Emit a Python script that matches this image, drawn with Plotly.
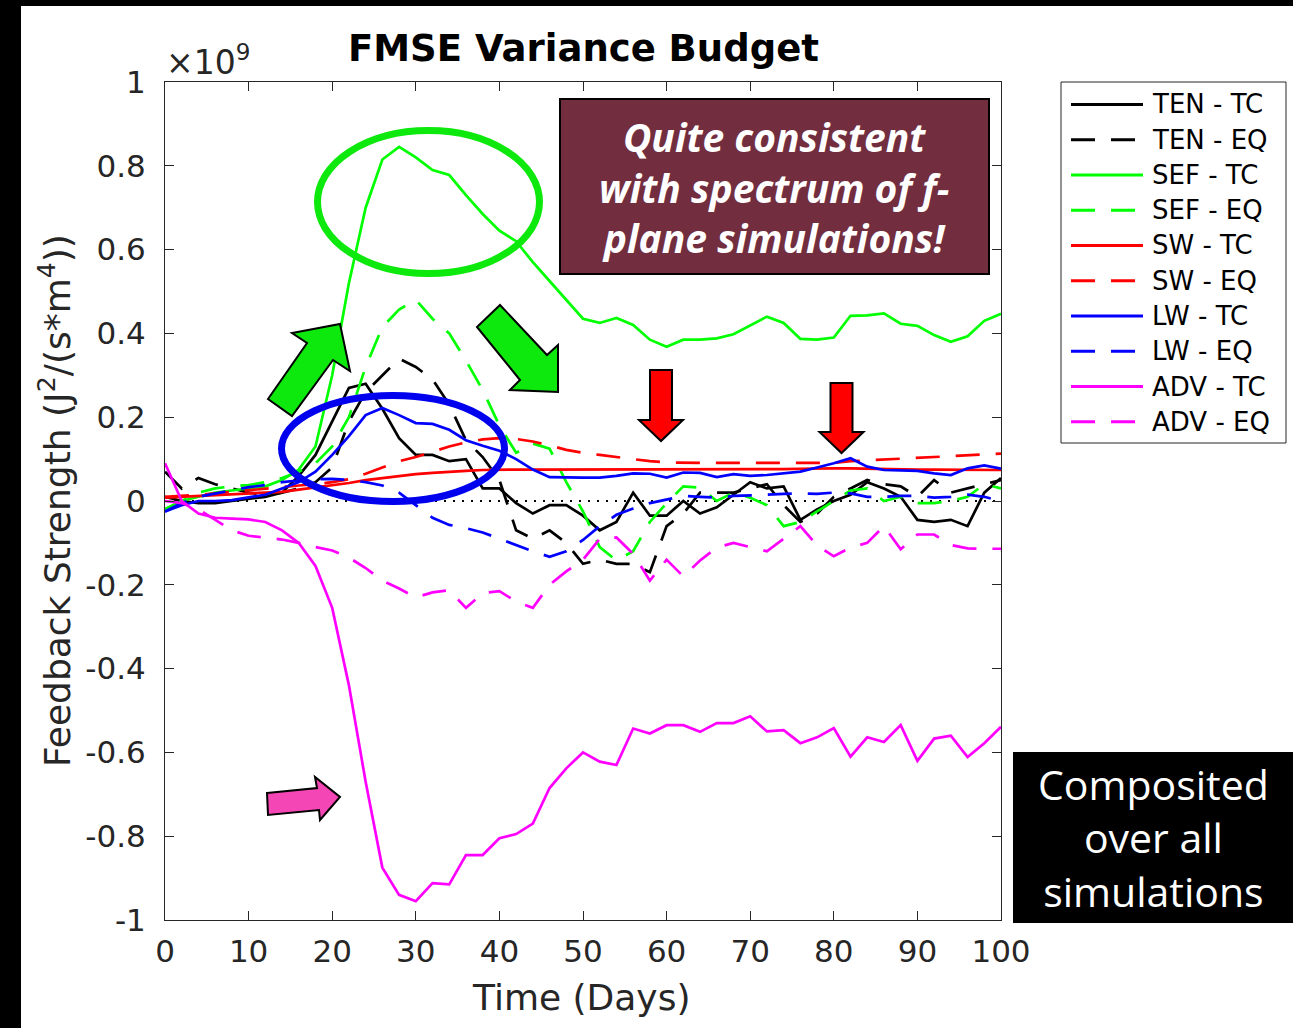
import plotly.graph_objects as go

# ---------------- data (values in units of 1e9 J^2/(s*m^4)) ----------------
days = list(range(0, 101, 2))

ten_tc = [0.01, 0.0, -0.005, -0.005, 0.0, 0.005, 0.01, 0.02, 0.06, 0.11, 0.19, 0.27, 0.28, 0.22,
          0.15, 0.11, 0.11, 0.095, 0.1, 0.03, 0.03, -0.005, -0.03, -0.01, -0.01, -0.035, -0.07,
          -0.05, 0.02, -0.035, -0.035, 0.0, -0.03, -0.015, 0.015, 0.045, 0.03, 0.035, -0.045,
          -0.02, 0.0, 0.015, 0.045, 0.03, 0.01, -0.045, -0.05, -0.045, -0.06, 0.02, 0.055]
ten_eq = [0.07, 0.03, 0.055, 0.04, 0.03, 0.02, 0.015, 0.02, 0.03, 0.045, 0.08, 0.19, 0.26, 0.3,
          0.34, 0.32, 0.29, 0.23, 0.145, 0.105, 0.05, -0.07, -0.09, -0.07, -0.1, -0.15, -0.14,
          -0.15, -0.15, -0.17, -0.06, -0.03, 0.02, 0.02, 0.02, 0.03, 0.04, -0.01, -0.05, -0.03,
          0.01, 0.03, 0.05, 0.04, 0.035, 0.01, 0.05, 0.02, 0.03, 0.04, 0.05]
sef_tc = [-0.02, 0.0, 0.01, 0.02, 0.025, 0.03, 0.035, 0.05, 0.075, 0.13, 0.3, 0.52, 0.70, 0.815,
          0.845, 0.82, 0.79, 0.778, 0.73, 0.685, 0.645, 0.62, 0.57, 0.525, 0.48, 0.435, 0.425,
          0.437, 0.42, 0.385, 0.368, 0.385, 0.385, 0.388, 0.398, 0.42, 0.44, 0.425, 0.387, 0.385,
          0.39, 0.442, 0.443, 0.448, 0.423, 0.418, 0.396, 0.38, 0.393, 0.43, 0.447]
sef_eq = [-0.02, 0.0, 0.02, 0.03, 0.035, 0.038, 0.045, 0.055, 0.07, 0.09, 0.13, 0.2, 0.32, 0.415,
          0.457, 0.48, 0.435, 0.4, 0.335, 0.265, 0.18, 0.115, 0.137, 0.125, 0.045, -0.025, -0.11,
          -0.142, -0.12, -0.05, -0.005, 0.035, 0.032, 0.0, 0.02, 0.008, -0.01, -0.06, -0.05,
          -0.025, 0.0, 0.025, 0.03, 0.0, 0.01, -0.005, -0.005, 0.0, 0.01, 0.04, 0.03]
sw_tc = [0.008, 0.01, 0.012, 0.014, 0.016, 0.018, 0.02, 0.022, 0.027, 0.032, 0.038, 0.043, 0.05,
         0.055, 0.06, 0.064, 0.067, 0.07, 0.072, 0.074, 0.075, 0.075, 0.075, 0.075, 0.075, 0.075,
         0.075, 0.075, 0.075, 0.075, 0.075, 0.076, 0.076, 0.076, 0.076, 0.076, 0.076, 0.076,
         0.077, 0.078, 0.078, 0.078, 0.077, 0.076, 0.076, 0.075, 0.075, 0.075, 0.075, 0.074, 0.074]
sw_eq = [0.01, 0.012, 0.015, 0.018, 0.022, 0.026, 0.03, 0.033, 0.037, 0.04, 0.045, 0.052, 0.065,
         0.08, 0.095, 0.105, 0.118, 0.13, 0.14, 0.147, 0.15, 0.148, 0.142, 0.133, 0.122, 0.115,
         0.11, 0.105, 0.1, 0.095, 0.092, 0.091, 0.091, 0.091, 0.091, 0.091, 0.091, 0.091, 0.091,
         0.091, 0.091, 0.095, 0.097, 0.099, 0.101, 0.103, 0.105, 0.107, 0.108, 0.11, 0.113]
lw_tc = [-0.025, -0.01, 0.0, 0.0, 0.002, 0.008, 0.015, 0.03, 0.045, 0.07, 0.11, 0.155, 0.205,
         0.222, 0.205, 0.186, 0.184, 0.17, 0.145, 0.132, 0.12, 0.1, 0.075, 0.057, 0.056, 0.056,
         0.056, 0.06, 0.066, 0.065, 0.056, 0.068, 0.067, 0.057, 0.064, 0.06, 0.062, 0.066, 0.07,
         0.08, 0.09, 0.102, 0.082, 0.074, 0.073, 0.072, 0.066, 0.062, 0.078, 0.085, 0.077]
lw_eq = [-0.025, -0.005, 0.01, 0.018, 0.026, 0.033, 0.038, 0.045, 0.049, 0.052, 0.053, 0.05,
         0.045, 0.037, 0.02, -0.01, -0.04, -0.057, -0.065, -0.075, -0.09, -0.105, -0.12, -0.133,
         -0.12, -0.093, -0.06, -0.033, -0.018, -0.005, 0.003, 0.012, 0.01, 0.008, 0.012, 0.013,
         0.015, 0.017, 0.018, 0.017, 0.02, 0.018, 0.01, 0.01, 0.012, 0.012, 0.008, 0.01, 0.015,
         0.01, 0.0]
adv_tc = [0.09, 0.0, -0.03, -0.04, -0.042, -0.044, -0.05, -0.07, -0.1, -0.155, -0.255, -0.44,
          -0.67, -0.875, -0.94, -0.955, -0.912, -0.915, -0.845, -0.845, -0.805, -0.795, -0.77,
          -0.685, -0.638, -0.6, -0.622, -0.63, -0.543, -0.555, -0.535, -0.535, -0.551, -0.53,
          -0.53, -0.514, -0.55, -0.547, -0.578, -0.564, -0.542, -0.61, -0.564, -0.575, -0.535,
          -0.62, -0.567, -0.56, -0.611, -0.578, -0.539]
adv_eq = [0.0, -0.005, -0.02, -0.045, -0.07, -0.083, -0.088, -0.092, -0.1, -0.11, -0.118, -0.135,
          -0.16, -0.19, -0.209, -0.23, -0.218, -0.213, -0.255, -0.22, -0.215, -0.24, -0.255, -0.2,
          -0.168, -0.14, -0.09, -0.087, -0.126, -0.19, -0.14, -0.18, -0.142, -0.111, -0.1, -0.11,
          -0.12, -0.09, -0.06, -0.106, -0.132, -0.111, -0.1, -0.06, -0.115, -0.08, -0.08, -0.105,
          -0.113, -0.114, -0.114]

series_names = ["TEN - TC", "TEN - EQ", "SEF - TC", "SEF - EQ", "SW - TC", "SW - EQ",
                "LW - TC", "LW - EQ", "ADV - TC", "ADV - EQ"]
series_values = [ten_tc, ten_eq, sef_tc, sef_eq, sw_tc, sw_eq, lw_tc, lw_eq, adv_tc, adv_eq]

xticks = list(range(0, 101, 10))
yticks = [1, 0.8, 0.6, 0.4, 0.2, 0, -0.2, -0.4, -0.6, -0.8, -1]
ytick_labels = ["1", "0.8", "0.6", "0.4", "0.2", "0", "-0.2", "-0.4", "-0.6", "-0.8", "-1"]

callout_lines = ["Quite consistent", "with spectrum of f-", "plane simulations!"]
note_lines = ["Composited", "over all", "simulations"]

# ---------------- styles ----------------
colors = ["#000000", "#000000", "#00ff00", "#00ff00", "#ff0000", "#ff0000",
          "#0000ff", "#0000ff", "#ff00ff", "#ff00ff"]
DASH = "24px,16px"
dashes = ["solid", DASH] * 5

W, H = 1293, 1028
L, R, T, B = 165, 1001, 82, 920
FONT = "DejaVu Sans"
AX = "#262626"


def xp(px):
    return (px - L) / (R - L)


def yp(py):
    return (B - py) / (B - T)


def path(points):
    return "M" + " L".join(f"{xp(x):.5f},{yp(y):.5f}" for x, y in points) + " Z"


fig = go.Figure()
for name, vals, c, d in zip(series_names, series_values, colors, dashes):
    fig.add_trace(go.Scatter(x=days, y=vals, mode="lines", name=name,
                             line=dict(color=c, width=2.7, dash=d), showlegend=False))

shapes = []
# zero dotted line
shapes.append(dict(type="line", xref="paper", yref="y", x0=0, x1=1, y0=0, y1=0,
                   line=dict(color="black", width=2, dash="2px,7px"), layer="below"))
# slide frame (black bands top and left)
shapes.append(dict(type="rect", xref="paper", yref="paper", x0=xp(-50), x1=xp(1400),
                   y0=yp(6), y1=yp(-60), fillcolor="black", line=dict(width=0)))
shapes.append(dict(type="rect", xref="paper", yref="paper", x0=xp(-60), x1=xp(21),
                   y0=yp(1100), y1=yp(-60), fillcolor="black", line=dict(width=0)))
# ellipses
shapes.append(dict(type="circle", xref="paper", yref="paper", x0=xp(317.5), x1=xp(539.5),
                   y0=yp(273.5), y1=yp(130.5), line=dict(color="#0de80d", width=7)))
shapes.append(dict(type="circle", xref="paper", yref="paper", x0=xp(281.5), x1=xp(504.5),
                   y0=yp(501.5), y1=yp(395.5), line=dict(color="#0000ee", width=7)))
# green arrows
shapes.append(dict(type="path", xref="paper", yref="paper",
                   path=path([(268, 399), (307, 343), (292, 333), (340, 324), (350, 371),
                              (333, 360), (292, 416)]),
                   fillcolor="#0de80d", line=dict(color="black", width=2)))
shapes.append(dict(type="path", xref="paper", yref="paper",
                   path=path([(477, 327), (500, 305), (547, 355), (558, 345), (558, 392),
                              (510, 390), (520, 380)]),
                   fillcolor="#0de80d", line=dict(color="black", width=2)))
# red arrows
for cx, top, shaft_bot, tip in [(661, 370, 420, 441), (841.5, 383, 432, 453)]:
    shapes.append(dict(type="path", xref="paper", yref="paper",
                       path=path([(cx - 11, top), (cx + 11, top), (cx + 11, shaft_bot),
                                  (cx + 22, shaft_bot), (cx, tip), (cx - 22, shaft_bot),
                                  (cx - 11, shaft_bot)]),
                       fillcolor="#ff0000", line=dict(color="black", width=2)))
# pink arrow
shapes.append(dict(type="path", xref="paper", yref="paper",
                   path=path([(267, 793), (317, 788), (315, 777), (340, 797), (320, 820),
                              (319, 810), (268, 815)]),
                   fillcolor="#f446b4", line=dict(color="black", width=2)))
# maroon text box
shapes.append(dict(type="rect", xref="paper", yref="paper", x0=xp(560), x1=xp(989),
                   y0=yp(274), y1=yp(99), fillcolor="#722e3f", line=dict(color="black", width=2)))
# black "Composited" box
shapes.append(dict(type="rect", xref="paper", yref="paper", x0=xp(1013), x1=xp(1310),
                   y0=yp(923), y1=yp(752), fillcolor="black", line=dict(width=0)))
# legend box
shapes.append(dict(type="rect", xref="paper", yref="paper", x0=xp(1061), x1=xp(1286),
                   y0=yp(443), y1=yp(82), fillcolor="white", line=dict(color=AX, width=1)))

annotations = []
row0, row_step = 104.5, 35.25
for i, (name, c, d) in enumerate(zip(series_names, colors, dashes)):
    ry = row0 + i * row_step
    shapes.append(dict(type="line", xref="paper", yref="paper", x0=xp(1071), x1=xp(1143),
                       y0=yp(ry), y1=yp(ry), line=dict(color=c, width=3, dash=d)))
    annotations.append(dict(xref="paper", yref="paper", x=xp(1150), y=yp(ry), text=name,
                            showarrow=False, xanchor="left", yanchor="middle",
                            font=dict(family=FONT, size=26, color="black")))

annotations.append(dict(xref="paper", yref="paper", x=xp(774), y=yp(187),
                        text="<b><i>" + "<br>".join(callout_lines) + "</i></b>",
                        showarrow=False, xanchor="center", yanchor="middle", align="center",
                        font=dict(family="Open Sans", size=39, color="white")))
annotations.append(dict(xref="paper", yref="paper", x=xp(1153), y=yp(837),
                        text="<br>".join(note_lines), showarrow=False,
                        xanchor="center", yanchor="middle", align="center",
                        font=dict(family="Open Sans", size=41, color="white")))

annotations += [
    dict(xref="paper", yref="paper", x=xp(583), y=yp(49), text="<b>FMSE Variance Budget</b>",
         showarrow=False, xanchor="center", yanchor="middle",
         font=dict(family=FONT, size=37, color="black")),
    dict(xref="paper", yref="paper", x=xp(164), y=yp(60), text="×10<sup>9</sup>",
         showarrow=False, xanchor="left", yanchor="middle",
         font=dict(family=FONT, size=33, color=AX)),
    dict(xref="paper", yref="paper", x=xp(581), y=yp(997), text="Time (Days)",
         showarrow=False, xanchor="center", yanchor="middle",
         font=dict(family=FONT, size=36, color=AX)),
    dict(xref="paper", yref="paper", x=xp(55), y=yp(501),
         text="Feedback Strength (J<sup>2</sup>/(s*m<sup>4</sup>))", textangle=-90,
         showarrow=False, xanchor="center", yanchor="middle",
         font=dict(family=FONT, size=36, color=AX)),
]

axis_common = dict(showline=True, linecolor=AX, linewidth=1, mirror="ticks", ticks="inside",
                   ticklen=9, tickwidth=1, tickcolor=AX, showgrid=False, zeroline=False,
                   tickfont=dict(family=FONT, size=31, color=AX))

fig.update_layout(
    width=W, height=H,
    margin=dict(l=L, r=W - R, t=T, b=H - B, pad=0),
    paper_bgcolor="white", plot_bgcolor="white",
    xaxis=dict(range=[0, 100], tickvals=xticks, ticklabelstandoff=4, **axis_common),
    yaxis=dict(range=[-1, 1], tickvals=yticks, ticktext=ytick_labels, ticklabelstandoff=12,
               **axis_common),
    shapes=shapes, annotations=annotations, showlegend=False,
)

fig.write_html("out.html")
